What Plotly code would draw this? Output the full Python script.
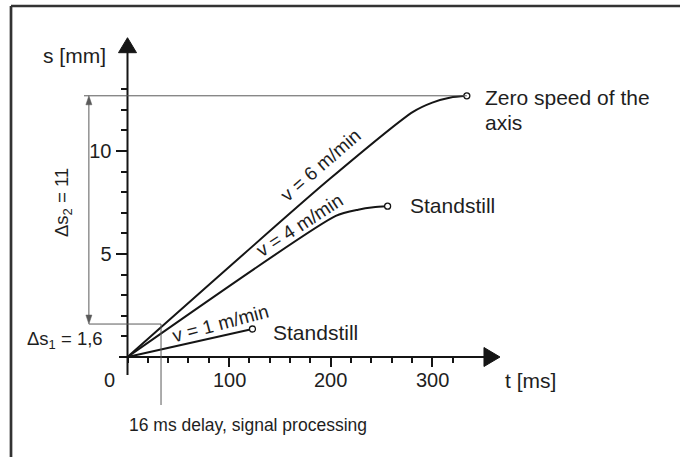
import plotly.graph_objects as go

# ---------------- data ----------------
v6_t = [0, 198, 281, 300, 318, 334]
v6_s = [0, 8.6, 11.9, 12.35, 12.6, 12.68]
v4_t = [0, 205, 227, 242, 256]
v4_s = [0, 6.85, 7.15, 7.27, 7.32]
v1_t = [0, 123]
v1_s = [0, 1.36]

x_major_ticks = [100, 200, 300]
x_minor_ticks = [0, 20, 40, 60, 80, 120, 140, 160, 180, 220, 240, 260, 280, 320]
y_major_ticks = [5, 10]
y_minor_ticks = [1, 2, 3, 4, 6, 7, 8, 9, 11, 12, 13]

ds1 = 1.6          # mm
ds2 = 11           # mm (level = ds1 + ds2 ~ 12.68)
top_level = 12.68
delay_t = 33       # position of the delay marker line (schematic)
left_t = -38       # position of the dimension arrow

# ---------------- geometry (pixel scale) ----------------
W, H = 680, 457
X0PX, Y0PX = 127.5, 357.0     # origin in pixels
KX, KY = 1.016, 20.6          # px per ms, px per mm
xr = [-X0PX / KX, (W - X0PX) / KX]
yr = [-(H - Y0PX) / KY, Y0PX / KY]

FONT = "Liberation Sans, Arial, sans-serif"
TXT = "#1e1e1e"
LINE = "#151515"
GREY = "#5a5a5a"

fig = go.Figure()

# curves
for t, s in [(v6_t, v6_s), (v4_t, v4_s)]:
    fig.add_trace(go.Scatter(x=t, y=s, mode="lines",
                             line=dict(color=LINE, width=2, shape="spline", smoothing=0.6),
                             hoverinfo="skip", showlegend=False))
fig.add_trace(go.Scatter(x=v1_t, y=v1_s, mode="lines",
                         line=dict(color=LINE, width=2), hoverinfo="skip", showlegend=False))
# end markers
fig.add_trace(go.Scatter(x=[v6_t[-1], v4_t[-1], v1_t[-1]], y=[v6_s[-1], v4_s[-1], v1_s[-1]],
                         mode="markers",
                         marker=dict(symbol="circle", size=6, color="white",
                                     line=dict(color=LINE, width=1.3)),
                         hoverinfo="skip", showlegend=False))

# invisible trace on tick subplot
fig.add_trace(go.Scatter(x=[0], y=[0], xaxis="x2", yaxis="y2", mode="markers",
                         marker=dict(opacity=0), hoverinfo="skip", showlegend=False))

shapes = []
# frame (top + left)
shapes.append(dict(type="line", xref="paper", yref="paper", x0=11 / W, x1=1, y0=1 - 6 / H, y1=1 - 6 / H,
                   line=dict(color="#333", width=2.5)))
shapes.append(dict(type="line", xref="paper", yref="paper", x0=11 / W, x1=11 / W, y0=0, y1=1 - 6 / H,
                   line=dict(color="#333", width=2.7)))

# axes lines
y_tip = 15.5
x_tip = 366.6
shapes.append(dict(type="line", x0=0, x1=0, y0=-18 / KY, y1=y_tip - 10 / KY,
                   line=dict(color=LINE, width=2)))
shapes.append(dict(type="line", x0=-8.5 / KX, x1=x_tip - 10 / KX, y0=0, y1=0,
                   line=dict(color=LINE, width=2)))
# arrow heads
ya_len, ya_hw = 15 / KY, 9 / KX
shapes.append(dict(type="path", path=f"M {-ya_hw},{y_tip - ya_len} L 0,{y_tip} L {ya_hw},{y_tip - ya_len} Z",
                   fillcolor=LINE, line=dict(color=LINE, width=1)))
xa_len, xa_hw = 16 / KX, 9.5 / KY
shapes.append(dict(type="path", path=f"M {x_tip - xa_len},{-xa_hw} L {x_tip},0 L {x_tip - xa_len},{xa_hw} Z",
                   fillcolor=LINE, line=dict(color=LINE, width=1)))

# helper lines
shapes.append(dict(type="line", x0=(84 - X0PX) / KX, x1=v6_t[-1], y0=top_level, y1=top_level,
                   line=dict(color=GREY, width=1)))
shapes.append(dict(type="line", x0=left_t, x1=delay_t, y0=ds1, y1=ds1,
                   line=dict(color=GREY, width=1)))
shapes.append(dict(type="line", x0=delay_t, x1=delay_t, y0=ds1, y1=-48 / KY,
                   line=dict(color=GREY, width=1)))
shapes.append(dict(type="line", x0=left_t, x1=left_t, y0=ds1 + 6 / KY, y1=top_level - 6 / KY,
                   line=dict(color=GREY, width=1)))
# small dimension arrowheads
da_len, da_hw = 9 / KY, 3 / KX
shapes.append(dict(type="path",
                   path=f"M {left_t - da_hw},{top_level - da_len} L {left_t},{top_level} L {left_t + da_hw},{top_level - da_len} Z",
                   fillcolor=GREY, line=dict(color=GREY, width=0.5)))
shapes.append(dict(type="path",
                   path=f"M {left_t - da_hw},{ds1 + da_len} L {left_t},{ds1} L {left_t + da_hw},{ds1 + da_len} Z",
                   fillcolor=GREY, line=dict(color=GREY, width=0.5)))

for sh in shapes:
    sh.setdefault("xref", "x")
    sh.setdefault("yref", "y")
    sh["layer"] = "above"

def px2t(px):
    return (px - X0PX) / KX

def py2s(py):
    return (Y0PX - py) / KY

ann = []
def A(text, px, py, size=21, xanchor="left", angle=0):
    ann.append(dict(text=text, x=px2t(px), y=py2s(py), xref="x", yref="y", showarrow=False,
                    xanchor=xanchor, yanchor="middle", textangle=angle,
                    font=dict(family=FONT, size=size, color=TXT)))

A("s [mm]", 108, 55, xanchor="right")
A("t [ms]", 503, 380)
A("0", 109, 380, size=20, xanchor="center")
# x tick labels at the tick values
for v in x_major_ticks:
    ann.append(dict(text=str(v), x=v, y=py2s(380), xref="x", yref="y", showarrow=False,
                    xanchor="center", yanchor="middle",
                    font=dict(family=FONT, size=20, color=TXT)))
A("Zero speed of the", 483, 97)
A("axis", 483, 122)
A("Standstill", 408, 205)
A("Standstill", 271, 332)
A("16 ms delay, signal processing", 127, 425, size=17.5)
A("Δs<sub>1</sub> = 1,6", 105, 340, size=18.5, xanchor="right")
A("Δs<sub>2</sub> = 11", 63, 203, size=18.5, xanchor="center", angle=-90)
A("v = 6 m/min", 320, 165, size=19, xanchor="center", angle=-41)
A("v = 4 m/min", 299, 225, size=19, xanchor="center", angle=-33)
A("v = 1 m/min", 220, 323, size=19, xanchor="center", angle=-15)

x2_max = 330
y2_max = 13.3
fig.update_layout(
    width=W, height=H, margin=dict(l=0, r=0, t=0, b=0),
    paper_bgcolor="white", plot_bgcolor="rgba(0,0,0,0)",
    showlegend=False,
    xaxis=dict(range=xr, visible=False, fixedrange=True),
    yaxis=dict(range=yr, visible=False, fixedrange=True),
    xaxis2=dict(domain=[X0PX / W, (X0PX + x2_max * KX) / W], range=[0, x2_max], anchor="y2",
                showgrid=False, zeroline=False, showline=False, showticklabels=False,
                tickmode="array", tickvals=x_major_ticks,
                ticks="outside", ticklen=9, tickwidth=1.5, tickcolor=LINE,
                minor=dict(tickmode="array", tickvals=x_minor_ticks, ticks="outside",
                           ticklen=5, tickwidth=1.5, tickcolor=LINE, showgrid=False)),
    yaxis2=dict(domain=[(H - Y0PX) / H, (H - Y0PX + y2_max * KY) / H], range=[0, y2_max], anchor="x2",
                showgrid=False, zeroline=False, showline=False,
                tickmode="array", tickvals=y_major_ticks, ticktext=[str(v) for v in y_major_ticks],
                ticks="outside", ticklen=11, tickwidth=1.5, tickcolor=LINE,
                tickfont=dict(family=FONT, size=20, color=TXT),
                minor=dict(tickmode="array", tickvals=y_minor_ticks, ticks="outside",
                           ticklen=6, tickwidth=1.5, tickcolor=LINE, showgrid=False)),
    shapes=shapes,
    annotations=ann,
)

fig.write_html("out.html", config={"displayModeBar": False},
               post_script="document.body.style.margin='0px';")
